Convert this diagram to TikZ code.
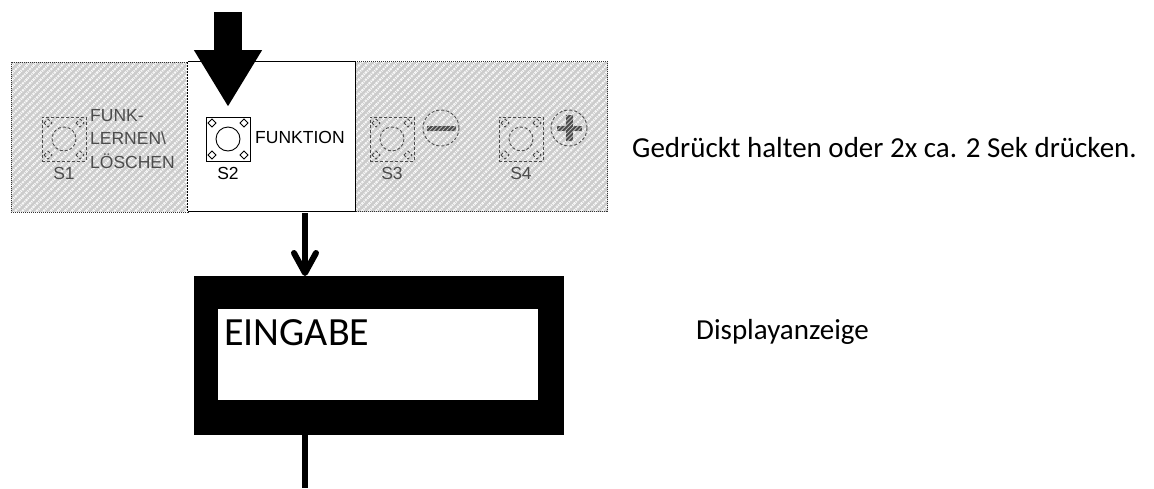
\documentclass[tikz,border=0pt]{standalone}
\usepackage{fontspec}
\setmainfont{Carlito}
\newfontfamily\platefont{Liberation Sans}
\usetikzlibrary{positioning, arrows.meta, patterns.meta}
\definecolor{panelgrey}{gray}{0.80}
\definecolor{fadeink}{gray}{0.30}

\begin{document}
\begin{tikzpicture}[x=1pt, y=-1pt, >=Stealth,
		panel/.style={draw=black!80, line width=1pt, densely dotted, minimum height=150pt, inner sep=0pt, preaction={fill=panelgrey}, pattern={Lines[angle=45,distance=5pt,line width=2.2pt]}, pattern color=white!90!panelgrey},
		keybox/.style={draw, line width=0.9pt, minimum width=44pt, minimum height=44pt, inner sep=0pt},
		keyfade/.style={draw=fadeink, text=fadeink, densely dashed},
		platetext/.style={font=\platefont\fontsize{17.5}{20}\selectfont, inner sep=0pt},
		hint/.style={font=\fontsize{29}{34}\selectfont, inner sep=0pt, anchor=west},
		signbar/.style={preaction={fill=fadeink}, pattern={Lines[angle=45,distance=3pt,line width=0.8pt]}, pattern color=panelgrey},
		flow/.style={line width=6pt}]
	\useasboundingbox (0,0) rectangle (1154,488);
	\node (leftpanel) [panel, minimum width=177pt, anchor=north west] at (10,61) {};
	\node (rightpanel) [panel, minimum width=252pt, anchor=north west] at (355,61) {};
	\node (fnpanel) [draw, line width=1.2pt, fill=white, minimum width=168pt, minimum height=150pt, inner sep=0pt, anchor=north west] at (187,61) {};
	\draw[white, line width=1.2pt, dash pattern=on 1pt off 2pt] (fnpanel.north west) -- (fnpanel.south west);

	\foreach \name/\cx/\lab/\look in {s1/64/S1/keyfade, s2/228/S2/black, s3/392/S3/keyfade, s4/521/S4/keyfade} {
		\node (\name) [keybox, \look] at (\cx,139) {};
		\draw[\look, line width=0.9pt] (\name.center) circle (12);
		\foreach \dx/\dy in {-16/-16, 16/-16, -16/16, 16/16}
			\draw[\look, line width=0.9pt] (\name.center) ++({\dx-4},\dy) -- ++(4,-4) -- ++(4,4) -- ++(-4,4) -- cycle;
		\node (\name label) [platetext, \look, draw=none, below=6pt of \name] {\lab};
	}

	\node (funklabel) [platetext, text=fadeink, align=left, anchor=west] at (90,139) {FUNK-\\[3.2pt]LERNEN\textbackslash\\[3.2pt]LÖSCHEN};
	\node (fnlabel) [platetext, anchor=west] at (255,137) {FUNKTION};

	\node (minus) [circle, keyfade, line width=0.9pt, minimum size=36pt, inner sep=0pt] at (441,128) {};
	\node (plus) [circle, keyfade, line width=0.9pt, minimum size=36pt, inner sep=0pt] at (569,128) {};
	\path[signbar] (427,125.5) rectangle (456,131);
	\path[signbar] (557,125.5) rectangle (582,131);
	\path[signbar] (566,115) rectangle (573,141);

	\coordinate (pushtop) at (228,12);
	\coordinate (pushtip) at (228,107);
	\draw[-{Triangle[length=57pt,width=64pt]}, line width=28pt] (pushtop) -- (pushtip);

	\node (display) [fill=black, minimum width=370pt, minimum height=159pt, inner sep=0pt, anchor=north west] at (194,276) {};
	\node (screen) [fill=white, minimum width=320pt, minimum height=91pt, inner sep=0pt, anchor=north west] at (218,309) {};
	\node (eingabe) [font=\fontsize{40}{44}\selectfont, inner sep=0pt, anchor=west] at (224,333) {EINGABE};

	\coordinate (flowtop) at (305,213);
	\coordinate (flowend) at (305,488);
	\draw[flow, -{Straight Barb[length=20pt,width=22pt,round]}] (flowtop) -- (flowtop |- display.north);
	\draw[flow] (flowtop |- display.south) -- (flowend);

	\node (presshint) [hint] at (632,148) {Gedrückt halten oder 2x ca. 2 Sek drücken.};
	\node (displayhint) [hint] at (696,332) {Displayanzeige};
\end{tikzpicture}
\end{document}
